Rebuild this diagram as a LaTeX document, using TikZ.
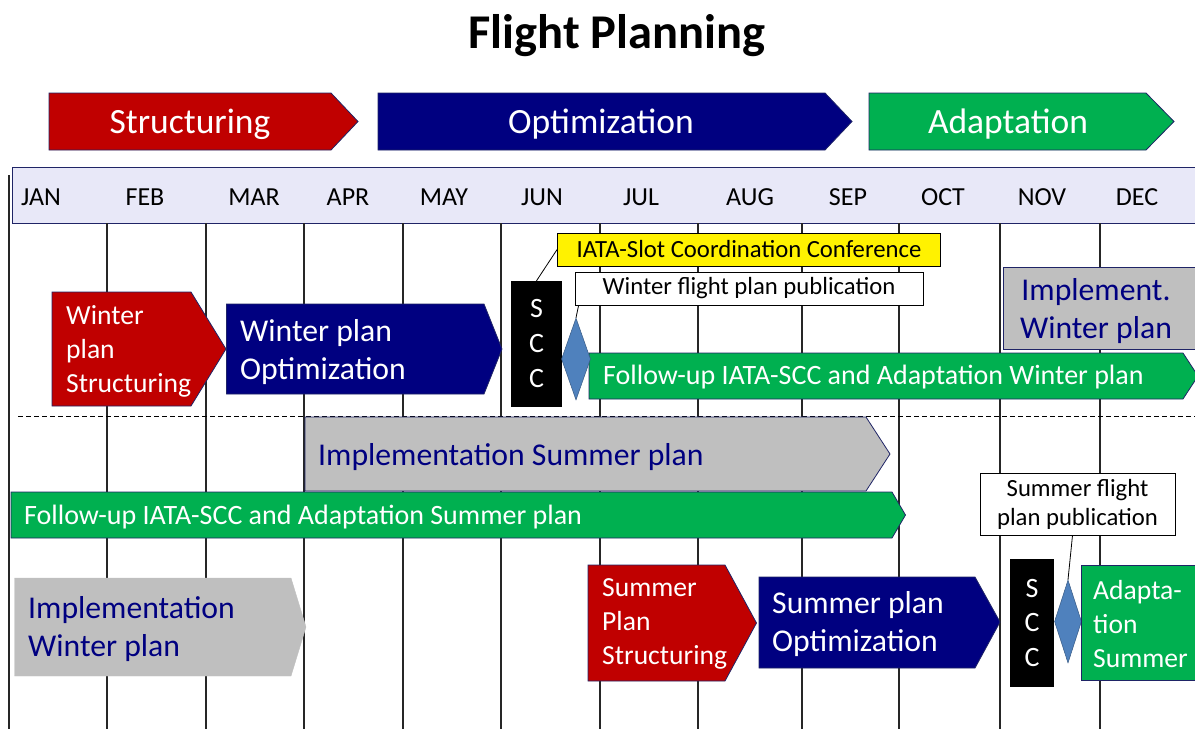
\documentclass[tikz,border=0pt]{standalone}
\usepackage{fontspec}
\setmainfont{Carlito}
\usepackage{tikz}
\usetikzlibrary{positioning,shapes.geometric,calc}

\definecolor{cred}{HTML}{C00000}
\definecolor{cnavy}{HTML}{000080}
\definecolor{cgreen}{HTML}{00B050}
\definecolor{cgray}{HTML}{BFBFBF}
\definecolor{cdia}{HTML}{4F81BD}
\definecolor{cband}{HTML}{E8E8F8}
\definecolor{cedge}{HTML}{1F2466}

\begin{document}
\begin{tikzpicture}[x=1pt, y=-1pt,
    bar/.style={draw=cedge, line width=0.8pt},
    gridline/.style={draw=black!85, line width=1.4pt},
    lbl/.style={anchor=west, align=left, inner sep=0pt, text=white},
    bigtxt/.style={font=\fontsize{31.7}{38}\selectfont},
    smalltxt/.style={font=\fontsize{27.6}{34}\selectfont},
    phasetxt/.style={inner sep=0pt, text=white, font=\fontsize{35.5}{42}\selectfont},
    month/.style={inner sep=0pt, font=\fontsize{26}{30}\selectfont},
    sccbox/.style={fill=black, align=center, text=white, inner sep=0pt, font=\fontsize{28}{35}\selectfont},
    note/.style={draw=black, line width=0.8pt, inner sep=0pt, align=center, font=\fontsize{24.7}{29}\selectfont},
    gem/.style={diamond, fill=cdia, draw=cdia!70!black, line width=0.5pt, inner sep=0pt},
    callout/.style={draw=black, line width=0.8pt}
]
\useasboundingbox (0,0) rectangle (1195,729);
\clip (0,0) rectangle (1195,729);

\node[font=\bfseries\fontsize{48.5}{56}\selectfont] (title) at (617,36) {Flight Planning};

\draw[bar, fill=cred] (49,93) -- (331,93) -- (358,121.5) -- (331,150) -- (49,150) -- cycle;
\draw[bar, fill=cnavy] (378,93) -- (825,93) -- (852,121.5) -- (825,150) -- (378,150) -- cycle;
\draw[bar, fill=cgreen] (869,93) -- (1146,93) -- (1174,121.5) -- (1146,150) -- (869,150) -- cycle;
\node[phasetxt] (structuring) at (190,124) {Structuring};
\node[phasetxt] (optimization) at (601,124) {Optimization};
\node[phasetxt] (adaptation) at (1008,124) {Adaptation};

\draw[bar, fill=cband] (12,167) rectangle (1205,223);
\foreach \x/\m in {41/JAN,145/FEB,254/MAR,348/APR,444/MAY,542/JUN,641/JUL,750/AUG,848/SEP,943/OCT,1042/NOV,1137/DEC}
  \node[month] (m-\m) at (\x,197) {\m};

\draw[gridline] (9,175) -- (9,729);
\foreach \x in {107,206,304,403,501,600,698,802,899,1000,1100}
  \draw[gridline] (\x,223) -- (\x,729);
\draw[line width=0.8pt, dash pattern=on 5pt off 3pt] (18,416) -- (1195,416);

\draw[bar, fill=cred] (52,292) -- (191,292) -- (226,349) -- (191,406) -- (52,406) -- cycle;
\node[lbl, smalltxt] (wstruct) at (66,351) {Winter\\plan\\Structuring};
\draw[bar, fill=cnavy] (226.5,304) -- (484,304) -- (502,349) -- (484,394) -- (226.5,394) -- cycle;
\node[lbl, bigtxt] (woptim) at (240,352) {Winter plan\\Optimization};
\node[sccbox, minimum width=51pt, minimum height=126pt] (scc1) at (536.5,344) {S\\C\\C};
\node[note, fill=yellow, minimum width=383pt, minimum height=33pt] (iata) at (749,249.5) {IATA-Slot Coordination Conference};
\node[note, fill=white, minimum width=348pt, minimum height=33pt] (wpub) at (749,288.5) {Winter flight plan publication};
\draw[bar, fill=cgreen] (589,353) -- (1183,353) -- (1198,376) -- (1183,399) -- (589,399) -- cycle;
\node[gem, minimum width=29pt, minimum height=82pt] (dia1) at (576,359) {};
\node[lbl, font=\fontsize{28}{33}\selectfont] (wfollow) at (603,377) {Follow-up IATA-SCC and Adaptation Winter plan};
\draw[bar, fill=cgray] (1003,267) rectangle (1210,349);
\node[align=center, inner sep=0pt, text=cnavy, bigtxt] (wimpl) at (1096,311) {Implement.\\Winter plan};
\draw[callout] (scc1.north) -- (iata.west);
\draw[callout] ([xshift=4pt]wpub.south west) -- (dia1.north);

\draw[bar, fill=cgray] (305,417) -- (866,417) -- (890,454) -- (866,491) -- (305,491) -- cycle;
\node[lbl, bigtxt, text=cnavy] (simpl) at (318,457) {Implementation Summer plan};
\draw[bar, fill=cgreen] (11,492) -- (892,492) -- (905.5,515) -- (892,538) -- (11,538) -- cycle;
\node[lbl, font=\fontsize{28}{33}\selectfont] (sfollow) at (24,517) {Follow-up IATA-SCC and Adaptation Summer plan};
\node[note, fill=white, minimum width=195pt, minimum height=62pt] (spub) at (1077.5,504) {Summer flight\\plan publication};

\draw[draw=cgray, fill=cgray] (14.5,578) -- (291,578) -- (306,627) -- (291,676) -- (14.5,676) -- cycle;
\node[lbl, bigtxt, text=cnavy] (wimpl2) at (28,629) {Implementation\\Winter plan};
\draw[bar, fill=cred] (588,565) -- (725,565) -- (756.5,623) -- (725,681) -- (588,681) -- cycle;
\node[lbl, smalltxt] (sstruct) at (602,624) {Summer\\Plan\\Structuring};
\draw[bar, fill=cnavy] (759,577) -- (975,577) -- (1000,622) -- (975,668) -- (759,668) -- cycle;
\node[lbl, bigtxt] (soptim) at (772,624) {Summer plan\\Optimization};
\node[sccbox, minimum width=43.5pt, minimum height=128pt] (scc2) at (1032,623) {S\\C\\C};
\node[gem, minimum width=27pt, minimum height=83pt] (dia2) at (1068,621.5) {};
\draw[bar, fill=cgreen] (1081,565) rectangle (1210,680);
\node[lbl, smalltxt] (sadapt) at (1093,624) {Adapta-\\tion\\Summer};
\draw[callout] ([xshift=-5pt]spub.south) -- (dia2.north);
\end{tikzpicture}
\end{document}
